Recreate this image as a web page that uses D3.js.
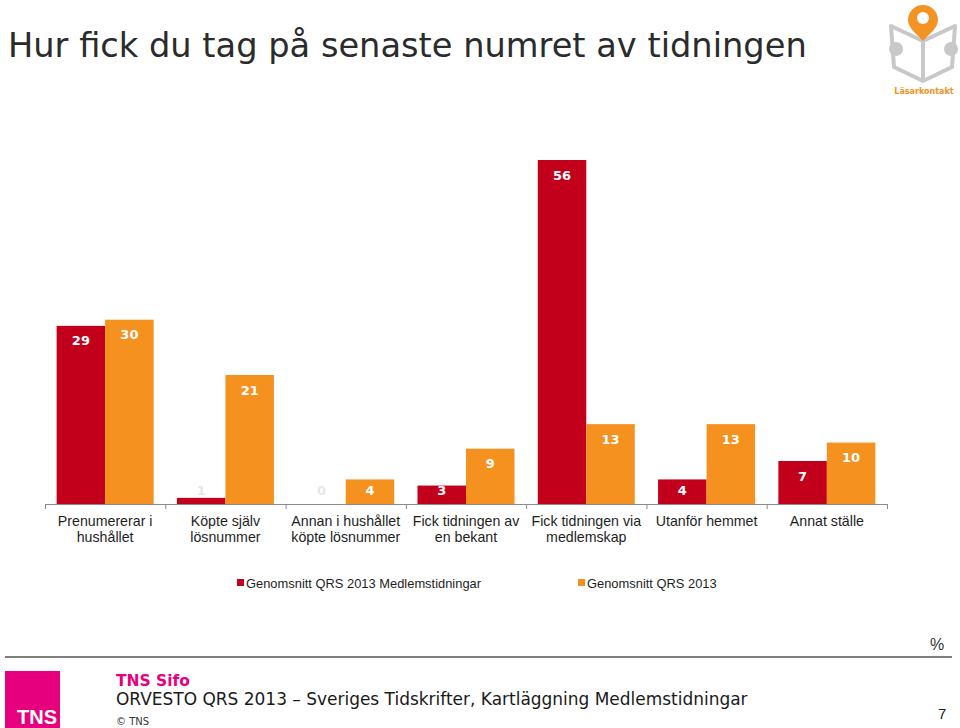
<!DOCTYPE html>
<html>
<head>
<meta charset="utf-8">
<script src="https://cdn.jsdelivr.net/npm/d3@7"></script>
<style>
  html, body { margin: 0; padding: 0; background: #fff; }
  svg { display: block; }
</style>
</head>
<body>
<svg id="chart" width="960" height="728"></svg>
<script>
// ---- Data ----
const titleText = "Hur fick du tag på senaste numret av tidningen";
const categories = [
  "Prenumererar i hushållet",
  "Köpte själv lösnummer",
  "Annan i hushållet köpte lösnummer",
  "Fick tidningen av en bekant",
  "Fick tidningen via medlemskap",
  "Utanför hemmet",
  "Annat ställe"
];
const categoryLines = [
  ["Prenumererar i", "hushållet"],
  ["Köpte själv", "lösnummer"],
  ["Annan i hushållet", "köpte lösnummer"],
  ["Fick tidningen av", "en bekant"],
  ["Fick tidningen via", "medlemskap"],
  ["Utanför hemmet"],
  ["Annat ställe"]
];
const seriesNames = ["Genomsnitt QRS 2013 Medlemstidningar", "Genomsnitt QRS 2013"];
const medlemValues = [29, 1, 0, 3, 56, 4, 7];
const qrsValues = [30, 21, 4, 9, 13, 13, 10];
const colors = ["#c2001b", "#f5921f"];

// ---- Drawing ----
const svg = d3.select("#chart");
const sans = "'Liberation Sans', Arial, sans-serif";
const verd = "'DejaVu Sans', Verdana, sans-serif";

// Title
const title = svg.append("text")
  .attr("x", 8).attr("y", 57)
  .attr("font-family", verd).attr("font-size", 32)
  .attr("fill", "#2b2b2b")
  .text(titleText);
const tl = title.node().getComputedTextLength();
title.attr("font-size", 32 * 799 / tl);

// Scales
const baseY = 504;
const x0 = d3.scaleBand().domain(categories).range([45, 887]).paddingInner(0).paddingOuter(0);
const x1 = d3.scaleBand().domain(seriesNames).range([0, x0.bandwidth()]).paddingInner(0).paddingOuter(0.24);
const y = d3.scaleLinear().domain([0, 56]).range([baseY, 160]);

const seriesValues = [medlemValues, qrsValues];
const rows = [];
categories.forEach((c, i) => {
  seriesNames.forEach((s, j) => {
    rows.push({ cat: c, ser: s, si: j, v: seriesValues[j][i] });
  });
});

// Bars
svg.append("g").selectAll("rect").data(rows).join("rect")
  .attr("x", d => x0(d.cat) + x1(d.ser))
  .attr("width", x1.bandwidth())
  .attr("y", d => y(d.v))
  .attr("height", d => baseY - y(d.v))
  .attr("fill", d => colors[d.si]);

// Value labels
svg.append("g").selectAll("text").data(rows).join("text")
  .attr("x", d => x0(d.cat) + x1(d.ser) + x1.bandwidth() / 2)
  .attr("y", d => Math.min(y(d.v) + 15, baseY - 14))
  .attr("dy", "0.35em")
  .attr("text-anchor", "middle")
  .attr("font-family", verd).attr("font-weight", "bold").attr("font-size", 13)
  .attr("fill", d => d.v <= 1 ? "#e6e6e6" : "#ffffff")
  .text(d => d.v);

// Axis line and ticks at category boundaries
const axis = svg.append("g");
axis.append("line")
  .attr("x1", x0.range()[0]).attr("x2", x0.range()[1])
  .attr("y1", baseY + 0.5).attr("y2", baseY + 0.5)
  .attr("stroke", "#8c8c8c").attr("stroke-width", 1.2);
const bounds = categories.map(c => x0(c)).concat([x0.range()[1]]);
axis.selectAll("line.tick").data(bounds).join("line")
  .attr("class", "tick")
  .attr("x1", d => d + 0.5).attr("x2", d => d + 0.5)
  .attr("y1", baseY).attr("y2", baseY + 5)
  .attr("stroke", "#8c8c8c").attr("stroke-width", 1);

// Category labels
const labG = svg.append("g");
categories.forEach((c, i) => {
  const t = labG.append("text")
    .attr("x", x0(c) + x0.bandwidth() / 2)
    .attr("y", 526)
    .attr("text-anchor", "middle")
    .attr("font-family", sans).attr("font-size", 14.2)
    .attr("fill", "#1e1e1e");
  categoryLines[i].forEach((ln, k) => {
    t.append("tspan").attr("x", x0(c) + x0.bandwidth() / 2).attr("dy", k === 0 ? 0 : 16).text(ln);
  });
});

// Legend
const legendX = [237, 578];
const leg = svg.append("g");
seriesNames.forEach((s, j) => {
  leg.append("rect").attr("x", legendX[j]).attr("y", 579).attr("width", 7).attr("height", 7).attr("fill", colors[j]);
  leg.append("text").attr("x", legendX[j] + 9).attr("y", 587.5)
    .attr("font-family", sans).attr("font-size", 12.9).attr("fill", "#1e1e1e").text(s);
});

// Footer
svg.append("text").attr("x", 930).attr("y", 650)
  .attr("font-family", sans).attr("font-size", 16).attr("fill", "#333").text("%");
svg.append("line").attr("x1", 5).attr("x2", 952).attr("y1", 657).attr("y2", 657)
  .attr("stroke", "#555").attr("stroke-width", 1.5);
svg.append("rect").attr("x", 5).attr("y", 671).attr("width", 55).attr("height", 57).attr("fill", "#e6007e");
svg.append("text").attr("x", 37).attr("y", 724).attr("text-anchor", "middle")
  .attr("font-family", "'Liberation Sans Narrow', 'Liberation Sans', sans-serif").attr("font-weight", "bold")
  .attr("font-size", 20).attr("fill", "#fff").text("TNS");
svg.append("text").attr("x", 116).attr("y", 686)
  .attr("font-family", verd).attr("font-weight", "bold").attr("font-size", 15.5)
  .attr("fill", "#e6007e").text("TNS Sifo");
const foot = svg.append("text").attr("x", 116).attr("y", 705)
  .attr("font-family", verd).attr("font-size", 17)
  .attr("fill", "#1a1a1a").text("ORVESTO QRS 2013 – Sveriges Tidskrifter, Kartläggning Medlemstidningar");
const fl = foot.node().getComputedTextLength();
foot.attr("font-size", 17 * 632 / fl);
svg.append("text").attr("x", 116).attr("y", 725)
  .attr("font-family", verd).attr("font-size", 10).attr("fill", "#333").text("© TNS");
svg.append("text").attr("x", 938).attr("y", 719)
  .attr("font-family", sans).attr("font-size", 15).attr("fill", "#222").text("7");

// Logo (Läsarkontakt)
const logo = svg.append("g");
const gray = "#c8c8c8";
logo.append("path")
  .attr("d", "M923,41 L891,26 L894,67 L923,81 L952,67 L955,26 Z M923,41 L923,81")
  .attr("fill", "none").attr("stroke", gray).attr("stroke-width", 4).attr("stroke-linejoin", "round");
logo.append("circle").attr("cx", 896).attr("cy", 49).attr("r", 7).attr("fill", gray);
logo.append("circle").attr("cx", 951).attr("cy", 49).attr("r", 7).attr("fill", gray);
logo.append("path")
  .attr("d", "M923,41 C916,33 908,28 908,20 A15,15 0 1 1 938,20 C938,28 930,33 923,41 Z")
  .attr("fill", "#f39323");
logo.append("circle").attr("cx", 923).attr("cy", 18).attr("r", 6).attr("fill", "#fff");
logo.append("text").attr("x", 924).attr("y", 93.5).attr("text-anchor", "middle")
  .attr("font-family", verd).attr("font-weight", "bold").attr("font-size", 8)
  .attr("fill", "#f39323").text("Läsarkontakt");
</script>
</body>
</html>
